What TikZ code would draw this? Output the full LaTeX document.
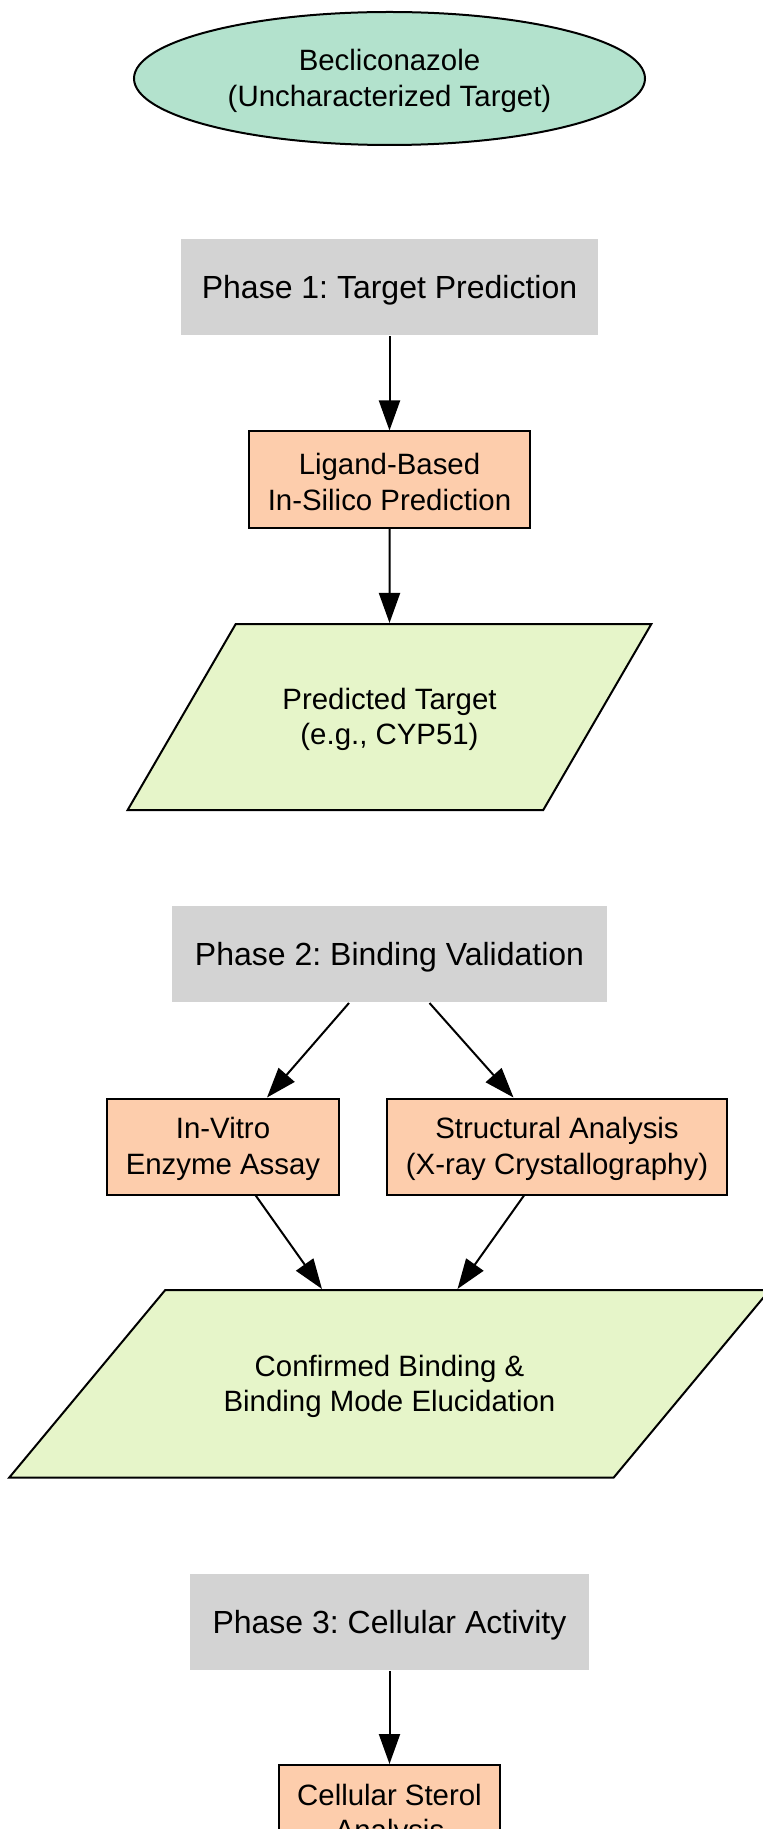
\documentclass[tikz,border=0pt]{standalone}
\usepackage{fontspec}
\setmainfont{Liberation Sans}
\frenchspacing
\usetikzlibrary{arrows.meta}
\usetikzlibrary{positioning}
\usetikzlibrary{shapes.geometric}
\usetikzlibrary{calc}
\definecolor{startgreen}{HTML}{B3E2CD}
\definecolor{steppeach}{HTML}{FDCDAC}
\definecolor{resultgreen}{HTML}{E6F5C9}
\definecolor{phasegray}{HTML}{D3D3D3}

\begin{document}
\begin{tikzpicture}[->,>={Triangle[length=15pt,width=10.5pt]},line width=1pt,
    body/.style={font=\fontsize{14.7}{17.75}\selectfont,align=center,text height=30.9pt},
    start node/.style={ellipse,draw,fill=startgreen,body,minimum width=255.5pt,minimum height=66.5pt,inner sep=0pt},
    phase node/.style={rectangle,fill=phasegray,font=\fontsize{16}{19}\selectfont,text height=14.7pt,minimum height=48pt},
    step node/.style={rectangle,draw,fill=steppeach,body,inner xsep=9.3pt,minimum height=48pt},
    result node/.style={trapezium,draw,fill=resultgreen,body,inner sep=5pt,trapezium stretches=true}]

    \useasboundingbox (-194.75pt,39.25pt) rectangle (186.75pt,-875.25pt);
    \clip (-194.75pt,39.25pt) rectangle (186.75pt,-875.25pt);

    \node[start node] (drug) {Becliconazole\\(Uncharacterized Target)};
    \node[phase node,minimum width=208pt] (phase1) [below of=drug,node distance=104.5pt] {Phase 1: Target Prediction};
    \node[step node] (insilico) [below of=phase1,node distance=96pt] {Ligand-Based\\In-Silico Prediction};
    \node[result node,trapezium left angle=46.9,trapezium right angle=133.1,minimum width=262.5pt,minimum height=93pt] (predicted) [below of=insilico,node distance=118.75pt] {Predicted Target\\(e.g., CYP51)};

    \node[phase node,minimum width=217.5pt] (phase2) [below of=predicted,node distance=118.5pt] {Phase 2: Binding Validation};
    \node[step node] (invitro) [below of=phase2,node distance=96.25pt,xshift=-83.25pt] {In-Vitro\\Enzyme Assay};
    \node[step node] (xray) [below of=phase2,node distance=96.25pt,xshift=83.75pt] {Structural Analysis\\(X-ray Crystallography)};
    \node[result node,trapezium left angle=35.7,trapezium right angle=144.3,minimum width=381.5pt,minimum height=93.75pt] (confirmed) [below of=phase2,node distance=214.875pt] {Confirmed Binding \&\\Binding Mode Elucidation};

    \node[phase node,minimum width=199.5pt] (phase3) [below of=confirmed,node distance=119.125pt] {Phase 3: Cellular Activity};
    \node[step node] (sterol) [below of=phase3,node distance=95.5pt] {Cellular Sterol\\Analysis};

    \path
      (phase1) edge (insilico)
      (insilico) edge (predicted)
      ([xshift=-20.25pt]phase2.south) edge ([xshift=22pt]invitro.north)
      ([xshift=20pt]phase2.south) edge ([xshift=-21.75pt]xray.north)
      ([xshift=16.35pt]invitro.south) edge ($(confirmed.center |- confirmed.north)+(-33.75pt,0)$)
      ([xshift=-16.5pt]xray.south) edge ($(confirmed.center |- confirmed.north)+(34pt,0)$)
      (phase3) edge (sterol)
    ;
\end{tikzpicture}
\end{document}
